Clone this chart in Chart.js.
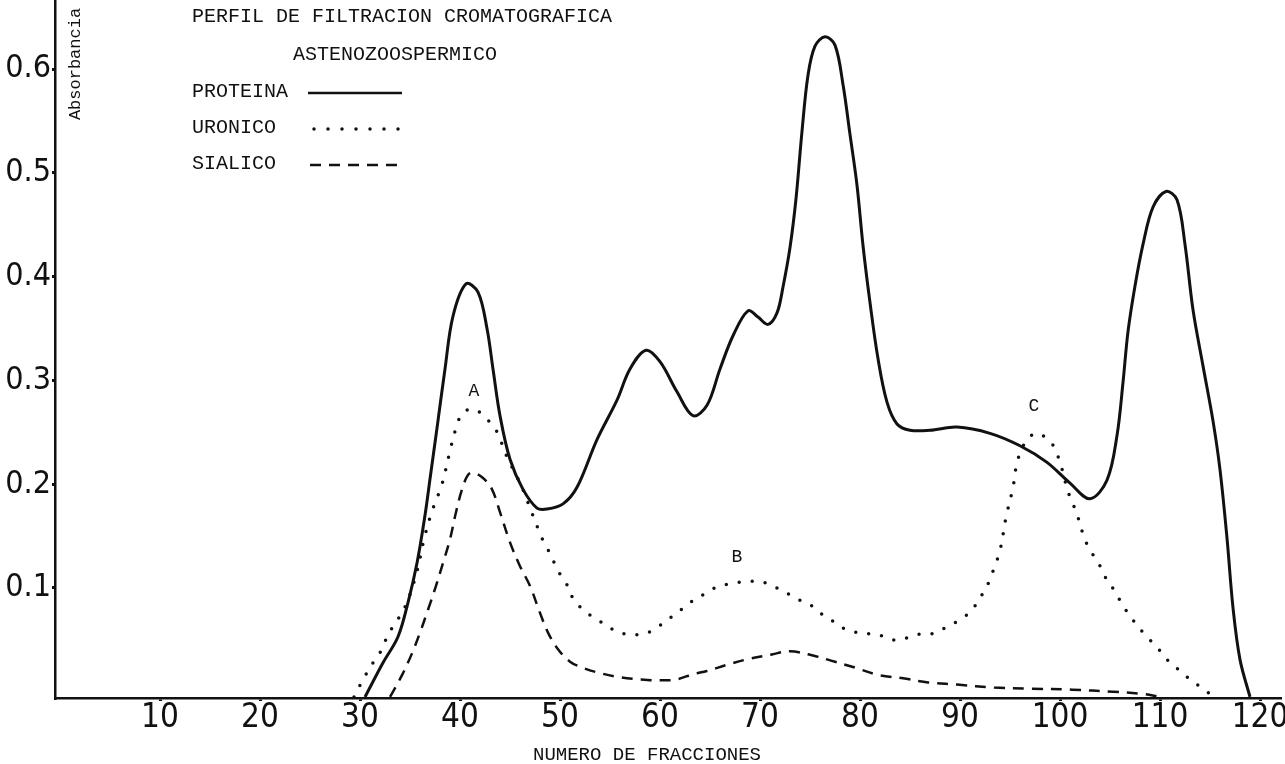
<!DOCTYPE html>
<html>
<head>
<meta charset="utf-8">
<script src="https://cdn.jsdelivr.net/npm/chart.js@4.4.1/dist/chart.umd.min.js"></script>
<style>
  html, body { margin: 0; padding: 0; background: #fff; }
  #wrap { width: 1285px; height: 764px; position: relative; }
</style>
</head>
<body>
<div id="wrap"><canvas id="perfil"></canvas></div>
<script>
// fraction number, absorbance
const proteina = [
  [30.5, -0.005], [32.3, 0.028], [33.8, 0.053], [34.8, 0.086], [35.7, 0.124], [36.5, 0.170],
  [37.0, 0.205], [37.7, 0.254], [38.5, 0.311], [39.3, 0.362], [40.6, 0.393], [41.8, 0.385],
  [42.7, 0.350], [43.3, 0.311], [44.0, 0.266], [45.0, 0.224], [46.3, 0.195], [47.7, 0.177],
  [48.7, 0.176], [50.3, 0.181], [51.7, 0.197], [53.7, 0.243], [55.7, 0.281], [57.0, 0.311],
  [58.6, 0.329], [60.0, 0.318], [61.7, 0.289], [63.3, 0.266], [64.7, 0.276], [66.0, 0.311],
  [67.3, 0.343], [68.8, 0.367], [69.8, 0.361], [70.8, 0.354], [71.7, 0.365], [72.3, 0.390],
  [73.0, 0.428], [73.6, 0.475], [74.2, 0.540], [74.8, 0.594], [75.5, 0.622], [76.5, 0.631],
  [77.5, 0.623], [78.3, 0.585], [79.0, 0.537], [79.7, 0.488], [80.3, 0.430], [81.0, 0.375],
  [81.8, 0.321], [82.7, 0.279], [83.7, 0.258], [85.0, 0.252], [87.0, 0.252], [89.7, 0.255],
  [93.0, 0.249], [96.0, 0.237], [98.7, 0.221], [101.0, 0.201], [103.0, 0.186], [104.7, 0.204],
  [105.7, 0.247], [106.3, 0.298], [106.8, 0.347], [107.5, 0.391], [108.3, 0.431], [109.3, 0.467],
  [110.6, 0.482], [111.7, 0.474], [112.5, 0.431], [113.3, 0.368], [114.3, 0.314], [115.3, 0.261],
  [116.0, 0.214], [116.7, 0.148], [117.3, 0.081], [118.0, 0.031], [119.0, -0.005]
]

const uronico = [
  [29.4, -0.005], [30.2, 0.010], [30.8, 0.020], [31.5, 0.031], [32.2, 0.041], [32.8, 0.055],
  [33.8, 0.070], [34.7, 0.086], [35.7, 0.116], [36.4, 0.147], [37.2, 0.174], [38.2, 0.200],
  [38.9, 0.228], [39.6, 0.254], [40.3, 0.269], [41.5, 0.272], [42.5, 0.264], [43.5, 0.254],
  [44.8, 0.224], [45.5, 0.211], [46.2, 0.197], [47.2, 0.172], [48.2, 0.148], [48.8, 0.137],
  [49.9, 0.115], [50.6, 0.105], [51.3, 0.090], [52.3, 0.079], [53.3, 0.072], [54.5, 0.065],
  [55.7, 0.058], [57.0, 0.055], [58.5, 0.056], [59.7, 0.062], [61.0, 0.071], [62.1, 0.079],
  [63.0, 0.086], [64.6, 0.095], [65.7, 0.101], [67.0, 0.104], [68.5, 0.106], [70.1, 0.106],
  [71.7, 0.100], [72.9, 0.094], [73.8, 0.089], [75.0, 0.084], [76.0, 0.076], [77.0, 0.070],
  [78.0, 0.063], [79.3, 0.058], [80.8, 0.056], [82.1, 0.054], [83.3, 0.050], [84.7, 0.052],
  [86.2, 0.056], [87.2, 0.056], [88.8, 0.063], [90.4, 0.072], [91.2, 0.079], [92.1, 0.092],
  [92.9, 0.106], [93.4, 0.119], [94.0, 0.136], [94.6, 0.168], [95.3, 0.197], [95.7, 0.221],
  [96.2, 0.234], [96.7, 0.243], [97.7, 0.249], [99.1, 0.240], [99.7, 0.229], [100.1, 0.218],
  [100.8, 0.193], [101.3, 0.181], [101.8, 0.168], [102.3, 0.152], [102.9, 0.138], [103.8, 0.125],
  [104.5, 0.111], [105.4, 0.098], [106.3, 0.083], [107.3, 0.069], [108.5, 0.055], [109.7, 0.043],
  [110.7, 0.031], [111.9, 0.021], [113.0, 0.012], [114.3, 0.003], [115.4, -0.005]
]

const sialico = [
  [33.0, -0.005], [34.2, 0.016], [35.2, 0.037], [36.0, 0.057], [36.8, 0.079], [37.6, 0.102],
  [38.3, 0.124], [39.0, 0.147], [39.6, 0.173], [40.2, 0.195], [40.8, 0.209], [41.3, 0.211],
  [42.3, 0.206], [43.2, 0.195], [44.0, 0.173], [45.0, 0.144], [46.0, 0.121], [47.0, 0.102],
  [48.0, 0.076], [48.8, 0.057], [49.8, 0.041], [51.0, 0.029], [52.3, 0.023], [54.0, 0.018],
  [56.0, 0.014], [58.0, 0.012], [60.0, 0.011], [61.7, 0.012], [63.3, 0.017], [64.7, 0.020],
  [66.7, 0.026], [68.6, 0.031], [71.2, 0.036], [73.0, 0.039], [75.3, 0.035], [77.1, 0.030],
  [79.6, 0.023], [81.9, 0.016], [84.3, 0.013], [86.8, 0.009], [89.7, 0.007], [93.4, 0.004],
  [97.1, 0.003], [101.2, 0.002], [105.3, 0.000], [108.2, -0.002], [110.0, -0.005]
]

const xTicks = [10, 20, 30, 40, 50, 60, 70, 80, 90, 100, 110, 120]
const yTicks = [0.1, 0.2, 0.3, 0.4, 0.5, 0.6]
const yTickLabels = ['0.1', '0.2', '0.3', '0.4', '0.5', '0.6']

const peakLabels = ['A', 'B', 'C']
const peakX = [41.4, 67.7, 97.4]
const peakY = [0.29, 0.13, 0.275]

const ink = '#111'
const typeFont = '"Liberation Mono", "DejaVu Sans Mono", monospace'
const tickFont = { family: '"Liberation Sans Narrow", "DejaVu Sans Condensed", "Liberation Sans", sans-serif', size: 33, lineHeight: 1 }

const toPoints = (pairs) => pairs.map((p) => ({ x: p[0], y: p[1] }))

// typewritten texts of the sheet: title, legend, axis names, peak letters
const sheetText = {
  id: 'sheetText',
  afterDraw(chart) {
    const ctx = chart.ctx
    const xs = chart.scales.x
    const ys = chart.scales.y
    ctx.save()
    ctx.fillStyle = ink
    ctx.strokeStyle = ink
    ctx.textBaseline = 'middle'
    ctx.textAlign = 'left'
    ctx.font = '20px ' + typeFont
    ctx.fillText('PERFIL DE FILTRACION CROMATOGRAFICA', 192, 17)
    ctx.fillText('ASTENOZOOSPERMICO', 293, 55)
    ctx.fillText('PROTEINA', 192, 92)
    ctx.fillText('URONICO', 192, 128)
    ctx.fillText('SIALICO', 192, 164)

    // legend samples
    ctx.lineWidth = 2.5
    ctx.beginPath()
    ctx.moveTo(308, 93)
    ctx.lineTo(402, 93)
    ctx.stroke()

    ctx.lineWidth = 3.5
    ctx.lineCap = 'round'
    ctx.setLineDash([0, 14])
    ctx.beginPath()
    ctx.moveTo(314, 129)
    ctx.lineTo(400, 129)
    ctx.stroke()

    ctx.lineWidth = 2.5
    ctx.lineCap = 'butt'
    ctx.setLineDash([11, 8])
    ctx.beginPath()
    ctx.moveTo(310, 165)
    ctx.lineTo(402, 165)
    ctx.stroke()
    ctx.setLineDash([])

    // peak letters
    ctx.textAlign = 'center'
    ctx.font = '18px ' + typeFont
    peakLabels.forEach((t, i) => {
      ctx.fillText(t, xs.getPixelForValue(peakX[i]), ys.getPixelForValue(peakY[i]))
    })

    // axis names
    ctx.font = '19px ' + typeFont
    ctx.fillText('NUMERO DE FRACCIONES', 647, 755)

    ctx.translate(75, 64)
    ctx.rotate(-Math.PI / 2)
    ctx.font = '17px ' + typeFont
    ctx.fillText('Absorbancia', 0, 0)
    ctx.restore()
  },
}

const config = {
  type: 'line',
  data: {
    datasets: [
      {
        label: 'PROTEINA',
        data: toPoints(proteina),
        borderColor: ink,
        borderWidth: 3,
      },
      {
        label: 'URONICO',
        data: toPoints(uronico),
        borderColor: ink,
        borderWidth: 3.5,
        borderDash: [0, 13],
        borderCapStyle: 'round',
      },
      {
        label: 'SIALICO',
        data: toPoints(sialico),
        borderColor: ink,
        borderWidth: 2.5,
        borderDash: [11, 8],
      },
    ],
  },
  options: {
    responsive: true,
    maintainAspectRatio: false,
    animation: false,
    tension: 0.35,
    pointRadius: 0,
    layout: { padding: { top: 0, right: 5, left: 0, bottom: 0 } },
    plugins: {
      legend: { display: false },
      tooltip: { enabled: false },
    },
    scales: {
      x: {
        type: 'linear',
        min: -0.5,
        max: 122,
        afterFit: (scale) => {
          scale.height = 66
          scale.paddingLeft = 0
          scale.paddingRight = 0
        },
        afterBuildTicks: (scale) => { scale.ticks = xTicks.map((v) => ({ value: v })) },
        border: { color: ink, width: 2.5 },
        grid: { drawOnChartArea: false, drawTicks: true, tickLength: 3, color: ink, lineWidth: 3 },
        ticks: {
          color: ink,
          font: tickFont,
          padding: 1,
          maxRotation: 0,
          autoSkip: false,
          callback: (v) => String(v),
        },
      },
      y: {
        min: -0.006,
        max: 0.6665,
        afterFit: (scale) => {
          scale.width = 55
          scale.paddingTop = 0
          scale.paddingBottom = 0
        },
        afterBuildTicks: (scale) => { scale.ticks = yTicks.map((v) => ({ value: v })) },
        border: { color: ink, width: 2.5 },
        grid: { drawOnChartArea: false, drawTicks: true, tickLength: 3, color: ink, lineWidth: 3 },
        ticks: {
          color: ink,
          font: { ...tickFont, size: 32 },
          padding: 1,
          autoSkip: false,
          callback: (v, i) => yTickLabels[i],
        },
      },
    },
  },
  plugins: [sheetText],
}

new Chart(document.querySelector('#perfil'), config)
</script>
</body>
</html>
